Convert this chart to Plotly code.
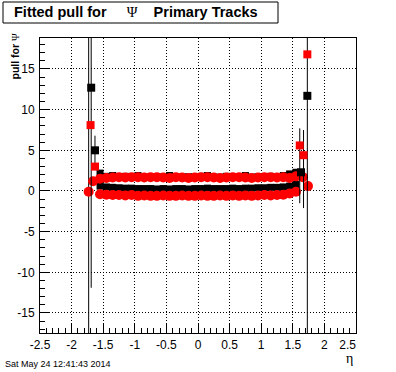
import plotly.graph_objects as go

# ---------------- data ----------------
ETA_BAND = [-1.55, -1.45, -1.35, -1.25, -1.15, -1.05, -0.95, -0.85, -0.75, -0.65,
            -0.55, -0.45, -0.35, -0.25, -0.15, -0.05, 0.05, 0.15, 0.25, 0.35,
            0.45, 0.55, 0.65, 0.75, 0.85, 0.95, 1.05, 1.15, 1.25, 1.35, 1.45, 1.55]

black_mean_band = [0.6, 0.5, 0.45, 0.4, 0.35, 0.35, 0.3, 0.3, 0.3, 0.25,
                   0.3, 0.25, 0.3, 0.3, 0.25, 0.3, 0.3, 0.35, 0.3, 0.3,
                   0.3, 0.35, 0.3, 0.35, 0.35, 0.4, 0.4, 0.45, 0.45, 0.5, 0.6, 0.8]
black_sigma_band = [2.2, 1.8, 1.9, 1.7, 1.8, 1.75, 1.9, 1.7, 1.7, 1.75,
                    1.7, 1.9, 1.7, 1.7, 1.75, 1.7, 1.8, 1.9, 1.7, 1.7,
                    1.8, 1.7, 1.7, 1.9, 1.7, 1.75, 1.7, 1.8, 1.7, 1.9, 2.1, 2.3]
red_sigma_band = [1.5, 1.6, 1.65, 1.7, 1.65, 1.7, 1.7, 1.65, 1.7, 1.7,
                  1.65, 1.6, 1.7, 1.65, 1.6, 1.65, 1.7, 1.7, 1.65, 1.6,
                  1.65, 1.7, 1.7, 1.65, 1.6, 1.65, 1.7, 1.7, 1.65, 1.7, 1.6, 1.8]
red_mean_band = [-0.4, -0.45, -0.5, -0.5, -0.55, -0.5, -0.6, -0.55, -0.6, -0.6,
                 -0.55, -0.6, -0.6, -0.55, -0.6, -0.6, -0.55, -0.6, -0.6, -0.55,
                 -0.6, -0.55, -0.6, -0.55, -0.6, -0.55, -0.5, -0.55, -0.5, -0.45, -0.3, -0.1]

# edge bins (large pulls with errors)
black_edge_eta = [-1.69, -1.63, 1.63, 1.73]
black_edge_val = [12.7, 5.0, 2.3, 11.7]
black_edge_err = [24.6, 1.8, 0.0, 40.0]

red_sq_eta = [-1.70, -1.63, 1.61, 1.67, 1.73]
red_sq_val = [8.1, 3.0, 5.6, 4.4, 16.8]
red_sq_err_plus = [0.0, 0.0, 2.1, 3.1, 0.0]
red_sq_err_minus = [0.0, 0.0, 7.1, 6.5, 0.0]

red_circ_eta = [-1.73, -1.66, 1.66, 1.74]
red_circ_val = [-0.1, 1.2, 1.7, 0.6]
red_circ_err = [40.0, 0.0, 0.0, 0.0]

X_TICKS = [-2.5, -2, -1.5, -1, -0.5, 0, 0.5, 1, 1.5, 2, 2.5]
X_TICK_LABELS = ["-2.5", "-2", "-1.5", "-1", "-0.5", "0", "0.5", "1", "1.5", "2", "2.5"]
Y_TICKS = [-15, -10, -5, 0, 5, 10, 15]
Y_TICK_LABELS = ["-15", "-10", "-5", "0", "5", "10", "15"]

TITLE = "Fitted pull for"
TITLE_SYM = "Ψ"
TITLE_END = "Primary Tracks"
DATE = "Sat May 24 12:41:43 2014"

# ---------------- layout geometry (screen pixels) ----------------
W, H = 396, 372
L, R, T, B = 40, 356, 38, 333
NB = "\u00a0"
SANS = "Liberation Sans, Arial, sans-serif"
SERIF = "Liberation Serif, Times New Roman, serif"


def px2x(px):
    return (px - L) / (R - L)


def py2y(py):
    return (B - py) / (B - T)


RED = "#ff0000"
fig = go.Figure()

fig.add_trace(go.Scatter(x=ETA_BAND, y=black_sigma_band, mode="markers",
                         marker=dict(symbol="square", size=7, color="black", line=dict(width=0))))
fig.add_trace(go.Scatter(x=ETA_BAND, y=black_mean_band, mode="markers",
                         marker=dict(symbol="square", size=7, color="black", line=dict(width=0))))
fig.add_trace(go.Scatter(x=ETA_BAND, y=red_sigma_band, mode="markers",
                         marker=dict(symbol="circle", size=10, color=RED, line=dict(width=0))))
fig.add_trace(go.Scatter(x=ETA_BAND, y=red_mean_band, mode="markers",
                         marker=dict(symbol="circle", size=10, color=RED, line=dict(width=0))))
fig.add_trace(go.Scatter(x=red_circ_eta, y=red_circ_val, mode="markers",
                         error_y=dict(type="data", array=red_circ_err, color="black", thickness=1, width=0),
                         marker=dict(symbol="circle", size=10, color=RED, line=dict(width=0))))
fig.add_trace(go.Scatter(x=black_edge_eta, y=black_edge_val, mode="markers",
                         error_y=dict(type="data", array=black_edge_err, color="black", thickness=1, width=0),
                         marker=dict(symbol="square", size=8, color="black", line=dict(width=0))))
fig.add_trace(go.Scatter(x=red_sq_eta, y=red_sq_val, mode="markers",
                         error_y=dict(type="data", symmetric=False, array=red_sq_err_plus,
                                      arrayminus=red_sq_err_minus, color="black", thickness=1, width=0),
                         marker=dict(symbol="square", size=8, color=RED, line=dict(width=0))))

tick_font = dict(family=SANS, size=12, color="black")
axis_common = dict(showline=True, linecolor="black", linewidth=1, mirror=True,
                   ticks="inside", ticklen=9, tickwidth=1, tickcolor="black",
                   showgrid=True, gridcolor="black", gridwidth=1, griddash="1px,2px",
                   zeroline=False, tickfont=tick_font)

# the last x label sits inside the frame edge, as in the original
x_labels_shown = X_TICK_LABELS[:-1] + [X_TICK_LABELS[-1] + NB * 5]

fig.update_xaxes(range=[-2.5, 2.5], tickvals=X_TICKS, ticktext=x_labels_shown,
                 minor=dict(ticks="inside", ticklen=5, tickcolor="black", dtick=0.1, showgrid=False),
                 ticklabelstandoff=1, **axis_common)
fig.update_yaxes(range=[-17.46, 18.81], tickvals=Y_TICKS, ticktext=Y_TICK_LABELS,
                 minor=dict(ticks="inside", ticklen=5, tickcolor="black", dtick=1, showgrid=False),
                 ticklabelstandoff=2, **axis_common)

fig.update_layout(
    width=W, height=H, autosize=False,
    margin=dict(l=L, r=W - R, t=T, b=H - B, pad=0),
    plot_bgcolor="white", paper_bgcolor="white",
    showlegend=False,
    font=dict(family=SANS, color="black"),
)

# title box
fig.add_shape(type="rect", xref="paper", yref="paper",
              x0=px2x(3), x1=px2x(278), y0=py2y(23), y1=py2y(2),
              line=dict(color="black", width=1), fillcolor="white")
fig.add_annotation(xref="paper", yref="paper", x=px2x(12), y=py2y(12.5),
                   xanchor="left", yanchor="middle", showarrow=False,
                   text=("<b>" + TITLE + "</b>" + NB * 5 +
                         "<span style='font-family:" + SERIF + ";font-weight:normal'>"
                         + TITLE_SYM + "</span>" + NB * 4 + "<b>" + TITLE_END + "</b>"),
                   font=dict(family=SANS, size=14.5, color="black"))

# y axis title
fig.add_annotation(xref="paper", yref="paper", x=px2x(15), y=py2y(31),
                   xanchor="center", yanchor="top", showarrow=False, textangle=-90,
                   text=("<b>pull for</b>" + NB +
                         "<span style='font-family:" + SERIF + "'>" + TITLE_SYM + "</span>"),
                   font=dict(family=SANS, size=10.5, color="black"))

# x axis title
fig.add_annotation(xref="paper", yref="paper", x=px2x(349), y=py2y(358),
                   xanchor="center", yanchor="middle", showarrow=False,
                   text="η",
                   font=dict(family=SERIF, size=14, color="black"))

# date stamp
fig.add_annotation(xref="paper", yref="paper", x=px2x(3), y=py2y(364),
                   xanchor="left", yanchor="middle", showarrow=False,
                   text=DATE,
                   font=dict(family=SANS, size=9, color="black"))

fig.write_html("out.html", config={"displayModeBar": False},
               post_script="document.body.style.margin='0';")
